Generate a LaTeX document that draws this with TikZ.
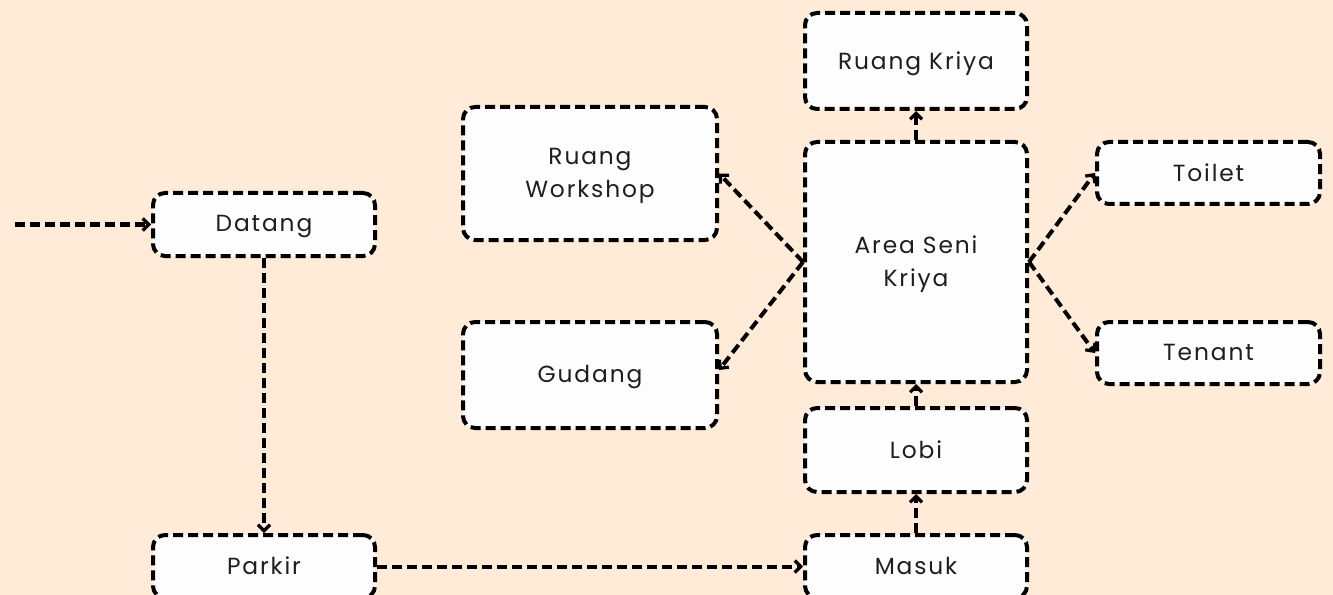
\documentclass[tikz,border=0pt]{standalone}
\usepackage{fontspec}
\setmainfont[LetterSpace=8]{Poppins}
\usetikzlibrary{arrows.meta}
\definecolor{bgc}{HTML}{FFEBD8}
\definecolor{boxc}{HTML}{FDFDFD}
\definecolor{txtc}{HTML}{1E1E1E}
\tikzset{
  box/.style={draw=black, fill=boxc, line width=3pt, dash pattern=on 7.5pt off 3.75pt,
    rounded corners=9pt, text=txtc, font=\fontsize{17.5}{24.75}\selectfont, align=center,
    inner sep=0pt, anchor=center, text depth=1pt},
  conn/.style={draw=black, line width=3pt, dash pattern=on 7.5pt off 3.75pt,
    -{Straight Barb[length=4.5pt,width=9pt,line width=2.4pt]}}
}
\begin{document}
\begin{tikzpicture}[x=0.75pt,y=-0.75pt]
\clip (0,0) rectangle (1333,595);
\fill[bgc] (0,0) rectangle (1333,595);
\newcommand{\bx}[6]{\node[box, minimum width=#4*0.75pt, minimum height=#5*0.75pt] (#1) at (#2,#3) {#6};}
\bx{datang}{264}{224.5}{222}{63}{Datang}
\bx{parkir}{264}{566.5}{222}{63}{Parkir}
\bx{masuk}{916}{566.5}{222}{63}{Masuk}
\bx{lobi}{916}{450}{222}{84}{Lobi}
\bx{area}{916}{262}{222}{240}{Area Seni\\Kriya}
\bx{kriya}{916}{61}{222}{96}{Ruang Kriya}
\bx{workshop}{590}{173.5}{254}{133}{Ruang\\Workshop}
\bx{gudang}{590}{375}{254}{106}{Gudang}
\bx{toilet}{1208.5}{173}{223}{62}{Toilet}
\bx{tenant}{1208.5}{353}{223}{62}{Tenant}
\coordinate (start) at (15,224.5);
\draw[conn] (start) -- (datang.west);
\draw[conn] (datang.south) -- (parkir.north);
\draw[conn] (parkir.east) -- (masuk.west);
\draw[conn] (masuk.north) -- (lobi.south);
\draw[conn] (lobi.north) -- (area.south);
\draw[conn] (area.north) -- (kriya.south);
\draw[conn] (area.west) -- (workshop.east);
\draw[conn] (area.west) -- (gudang.east |- 0,370);
\draw[conn] (area.east) -- (toilet.west);
\draw[conn] (area.east) -- (tenant.west);
\end{tikzpicture}
\end{document}
